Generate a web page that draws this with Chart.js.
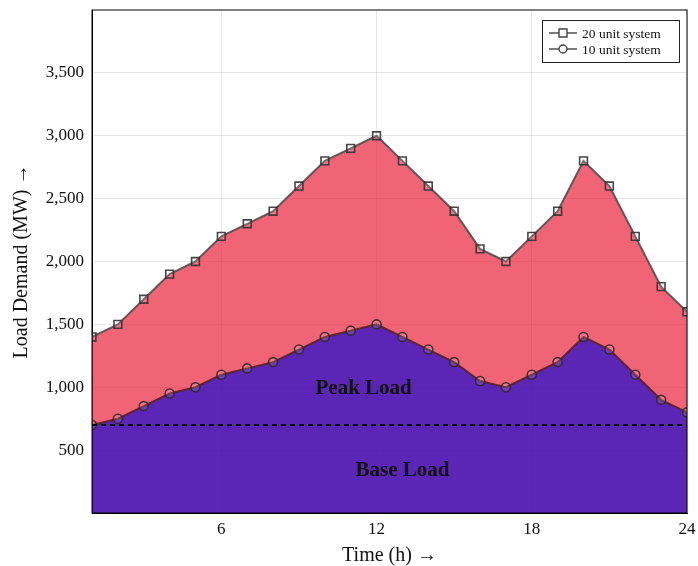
<!DOCTYPE html>
<html>
<head>
<meta charset="utf-8">
<script src="https://cdn.jsdelivr.net/npm/chart.js@4"></script>
<style>
  body { margin: 0; background: white; }
  #wrap { width: 698px; height: 566px; }
</style>
</head>
<body>
<div id="wrap"><canvas id="loadChart"></canvas></div>
<script>
// data
const hours = [1,2,3,4,5,6,7,8,9,10,11,12,13,14,15,16,17,18,19,20,21,22,23,24];
const unit20 = [1400,1500,1700,1900,2000,2200,2300,2400,2600,2800,2900,3000,2800,2600,2400,2100,2000,2200,2400,2800,2600,2200,1800,1600];
const unit10 = [700,750,850,950,1000,1100,1150,1200,1300,1400,1450,1500,1400,1300,1200,1050,1000,1100,1200,1400,1300,1100,900,800];
const baseLoad = 700;
const xTicks = [6, 12, 18, 24];
const yTicks = [500, 1000, 1500, 2000, 2500, 3000, 3500];

const serif = '"Liberation Serif", "DejaVu Serif", serif';

const pts = (ys) => hours.map((h, i) => ({ x: h, y: ys[i] }));

// text labels and legend box drawn on top
const overlayPlugin = {
  id: 'overlay',
  afterDraw(chart) {
    const ctx = chart.ctx;
    const xs = chart.scales.x, ys = chart.scales.y;
    ctx.save();
    ctx.fillStyle = '#111';
    ctx.font = 'bold 21px ' + serif;
    ctx.textAlign = 'center';
    ctx.textBaseline = 'middle';
    ctx.fillText('Peak Load', xs.getPixelForValue(11.5), ys.getPixelForValue(990));
    ctx.fillText('Base Load', xs.getPixelForValue(13), ys.getPixelForValue(340));

    // legend
    const bx = 542, by = 20, bw = 137, bh = 42;
    ctx.fillStyle = 'white';
    ctx.fillRect(bx, by, bw, bh);
    ctx.strokeStyle = '#222';
    ctx.lineWidth = 1;
    ctx.strokeRect(bx + 0.5, by + 0.5, bw, bh);
    const rows = [
      { label: '20 unit system', y: by + 13, shape: 'square' },
      { label: '10 unit system', y: by + 29, shape: 'circle' }
    ];
    ctx.font = '13.5px ' + serif;
    ctx.textAlign = 'left';
    rows.forEach(r => {
      ctx.strokeStyle = '#444';
      ctx.lineWidth = 1.4;
      ctx.beginPath();
      ctx.moveTo(bx + 7, r.y);
      ctx.lineTo(bx + 35, r.y);
      ctx.stroke();
      ctx.beginPath();
      if (r.shape === 'square') ctx.rect(bx + 17, r.y - 4, 8, 8);
      else ctx.arc(bx + 21, r.y, 4, 0, Math.PI * 2);
      ctx.fillStyle = 'white';
      ctx.fill();
      ctx.stroke();
      ctx.fillStyle = '#111';
      ctx.fillText(r.label, bx + 40, r.y + 1);
    });
    ctx.restore();
  }
};

const chartData = {
  datasets: [
    {
      label: '20 unit system',
      data: pts(unit20),
      order: 2,
      borderColor: 'rgba(70,70,70,0.85)',
      backgroundColor: 'rgba(235,40,65,0.72)',
      fill: '+1',
      borderWidth: 2,
      pointStyle: 'rect',
      pointRadius: 5.5,
      pointBorderWidth: 1.6,
      pointBorderColor: 'rgba(50,50,50,0.9)',
      pointBackgroundColor: 'rgba(255,255,255,0.12)',
      tension: 0
    },
    {
      label: '10 unit system',
      data: pts(unit10),
      order: 1,
      borderColor: 'rgba(90,30,35,0.9)',
      backgroundColor: 'rgba(73,14,173,0.9)',
      fill: 'origin',
      borderWidth: 2,
      pointStyle: 'circle',
      pointRadius: 4.5,
      pointBorderWidth: 1.6,
      pointBorderColor: 'rgba(50,40,40,0.9)',
      pointBackgroundColor: 'rgba(255,255,255,0.12)',
      tension: 0
    },
    {
      label: 'base',
      data: [{ x: 1, y: baseLoad }, { x: 24, y: baseLoad }],
      order: 0,
      borderColor: '#000',
      borderWidth: 1.8,
      borderDash: [5, 4],
      pointRadius: 0,
      fill: false
    }
  ]
};

const config = {
  type: 'line',
  data: chartData,
  options: {
    responsive: true,
    maintainAspectRatio: false,
    animation: false,
    layout: { padding: { left: 6, right: 11, top: 10, bottom: 0 } },
    plugins: {
      legend: { display: false },
      tooltip: { enabled: false }
    },
    scales: {
      x: {
        type: 'linear',
        min: 1,
        max: 24,
        afterBuildTicks: (s) => { s.ticks = xTicks.map(v => ({ value: v })); },
        afterFit: (s) => { s.height = 53; s.paddingLeft = 0; s.paddingRight = 0; },
        grid: { color: 'rgba(200,200,200,0.45)', drawTicks: false },
        border: { color: '#000', width: 1 },
        ticks: { color: '#111', font: { family: serif, size: 17 }, padding: 6, maxRotation: 0 },
        title: { display: true, text: 'Time (h) \u2192', color: '#111', font: { family: serif, size: 20, lineHeight: 1 }, padding: { top: 4, bottom: 0 } }
      },
      y: {
        min: 0,
        max: 4000,
        afterBuildTicks: (s) => { s.ticks = yTicks.map(v => ({ value: v })); },
        afterFit: (s) => { s.width = 86; s.paddingTop = 0; s.paddingBottom = 0; },
        grid: { color: 'rgba(200,200,200,0.45)', drawTicks: false },
        border: { color: '#000', width: 1 },
        ticks: {
          color: '#111',
          font: { family: serif, size: 17 },
          padding: 8,
          callback: (v) => v.toLocaleString('en-US')
        },
        title: { display: true, text: 'Load Demand (MW) \u2192', color: '#111', font: { family: serif, size: 20 }, padding: { bottom: 4 } }
      }
    }
  },
  plugins: [
    overlayPlugin,
    {
      id: 'frame',
      afterDatasetsDraw(chart) {
        const a = chart.chartArea, ctx = chart.ctx;
        ctx.save();
        ctx.strokeStyle = '#000';
        ctx.lineWidth = 1;
        ctx.strokeRect(a.left, a.top, a.right - a.left, a.bottom - a.top);
        ctx.restore();
      }
    }
  ]
};

const loadChart = new Chart(document.getElementById('loadChart'), config);
</script>
</body>
</html>
